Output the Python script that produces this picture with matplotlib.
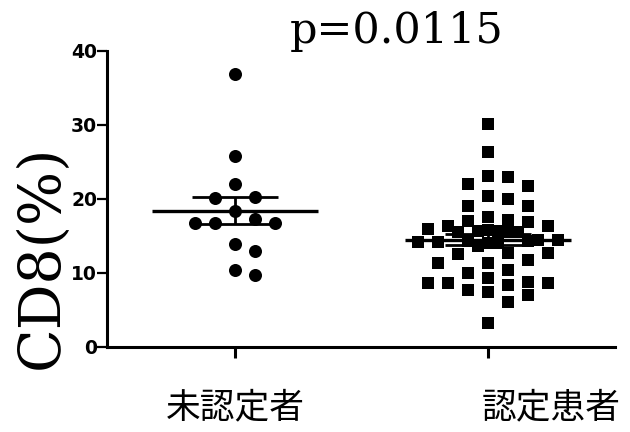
import numpy as np
import matplotlib
matplotlib.use("Agg")
import matplotlib.pyplot as plt
from matplotlib.transforms import blended_transform_factory

# === Data (CD8 %) ===
groups = ["未認定者", "認定患者"]
cd8_uncertified = [36.9, 25.8, 22.0, 20.3, 20.1, 18.4, 17.3, 16.7, 16.7, 16.7,
                   13.9, 13.0, 10.4, 9.7]
cd8_certified = [30.1, 26.4, 23.1, 23.0, 22.0, 21.7, 20.4, 20.0, 19.0, 19.1,
                 17.2, 16.9, 17.0, 17.6, 16.4, 16.3,
                 15.8, 15.6, 15.9, 15.7, 15.5, 15.6, 15.7,
                 14.3, 14.1, 14.4, 14.2, 14.0, 14.5, 14.3, 14.2,
                 13.6, 12.7, 12.6, 12.7, 11.8, 11.4, 11.4, 10.4, 10.0,
                 9.3, 8.8, 8.7, 8.6, 8.6, 8.4, 7.7, 7.5, 7.0, 6.1, 3.3]
p_text = "p=0.0115"
yticks = [0, 10, 20, 30, 40]

W, H, DPI = 630, 432, 100
fig = plt.figure(figsize=(W / DPI, H / DPI), dpi=DPI)
ax_l, ax_r, ax_b, ax_t = 107 / W, 615 / W, 1 - 347 / H, 1 - 51 / H
ax = fig.add_axes([ax_l, ax_b, ax_r - ax_l, ax_t - ax_b])
xlim = (0.494, 2.502)
ylim = (0, 40)
ax.set_xlim(*xlim)
ax.set_ylim(*ylim)

px_x = (ax_r - ax_l) * W / (xlim[1] - xlim[0])
px_y = (ax_t - ax_b) * H / (ylim[1] - ylim[0])


def swarm(vals, step=10.0, size_x=12.5, size_y=15.0, max_w=78.0):
    # greedy beeswarm in pixel space; crowded rows get squeezed inside max_w
    vals = np.asarray(vals, dtype=float)
    order = np.argsort(-vals, kind="stable")
    cands = [0]
    for n in range(1, int(max_w // step) + 1):
        cands += [n, -n]
    placed = []
    offs = np.zeros(len(vals))
    for i in order:
        y = vals[i] * px_y
        best, best_score = 0.0, -1.0
        for k in cands:
            x = k * step
            score = min([max(abs(x - px) / size_x, abs(y - py) / size_y)
                         for px, py in placed] or [9.0])
            if score >= 1.0:
                best = x
                break
            if score > best_score:
                best, best_score = x, score
        placed.append((best, y))
        offs[i] = best / px_x
    return offs


data = [cd8_uncertified, cd8_certified]
markers = ["o", "s"]
sizes = [88, 80]
for i, (vals, m, s) in enumerate(zip(data, markers, sizes)):
    xc = i + 1
    vals = np.asarray(vals)
    xs = xc + swarm(vals)
    ax.scatter(xs, vals, marker=m, s=s, color="black", linewidths=0, zorder=3)
    mean = vals.mean()
    sem = vals.std(ddof=1) / np.sqrt(len(vals))
    ax.hlines(mean, xc - 0.33, xc + 0.33, color="black", lw=2.4, zorder=4)
    ax.errorbar(xc, mean, yerr=sem, fmt="none", ecolor="black", elinewidth=2.0,
                capsize=31, capthick=2.0, zorder=4)

# axes styling
for side in ["top", "right"]:
    ax.spines[side].set_visible(False)
ax.spines["left"].set_linewidth(2.2)
ax.spines["bottom"].set_linewidth(2.2)
ax.set_yticks(yticks)
ax.set_yticklabels([str(t) for t in yticks], fontfamily="DejaVu Sans",
                   fontweight="bold", fontsize=13.5)
ax.tick_params(axis="y", length=7, width=1.6, pad=0)
ax.set_xticks([1, 2])
ax.set_xticklabels([])
ax.tick_params(axis="x", length=8, width=2.2)

# category labels (second one sits right of its tick in the original)
lab_tr = blended_transform_factory(ax.transData, fig.transFigure)
ax.text(1.0, 1 - 408 / H, groups[0], transform=lab_tr,
        ha="center", va="center", fontsize=25, family=["Noto Sans CJK JP"])
ax.text(2.25, 1 - 408 / H, groups[1], transform=lab_tr,
        ha="center", va="center", fontsize=25, family=["Noto Sans CJK JP"])

fig.text(42 / W, 1 - 257 / H, "CD8(%)", rotation=90, ha="center", va="center",
         fontsize=41, family=["DejaVu Serif"])
fig.text(397 / W, 1 - 43 / H, p_text, ha="center", va="baseline",
         fontsize=31, family=["DejaVu Serif"])

fig.savefig("out.png", dpi=DPI)
